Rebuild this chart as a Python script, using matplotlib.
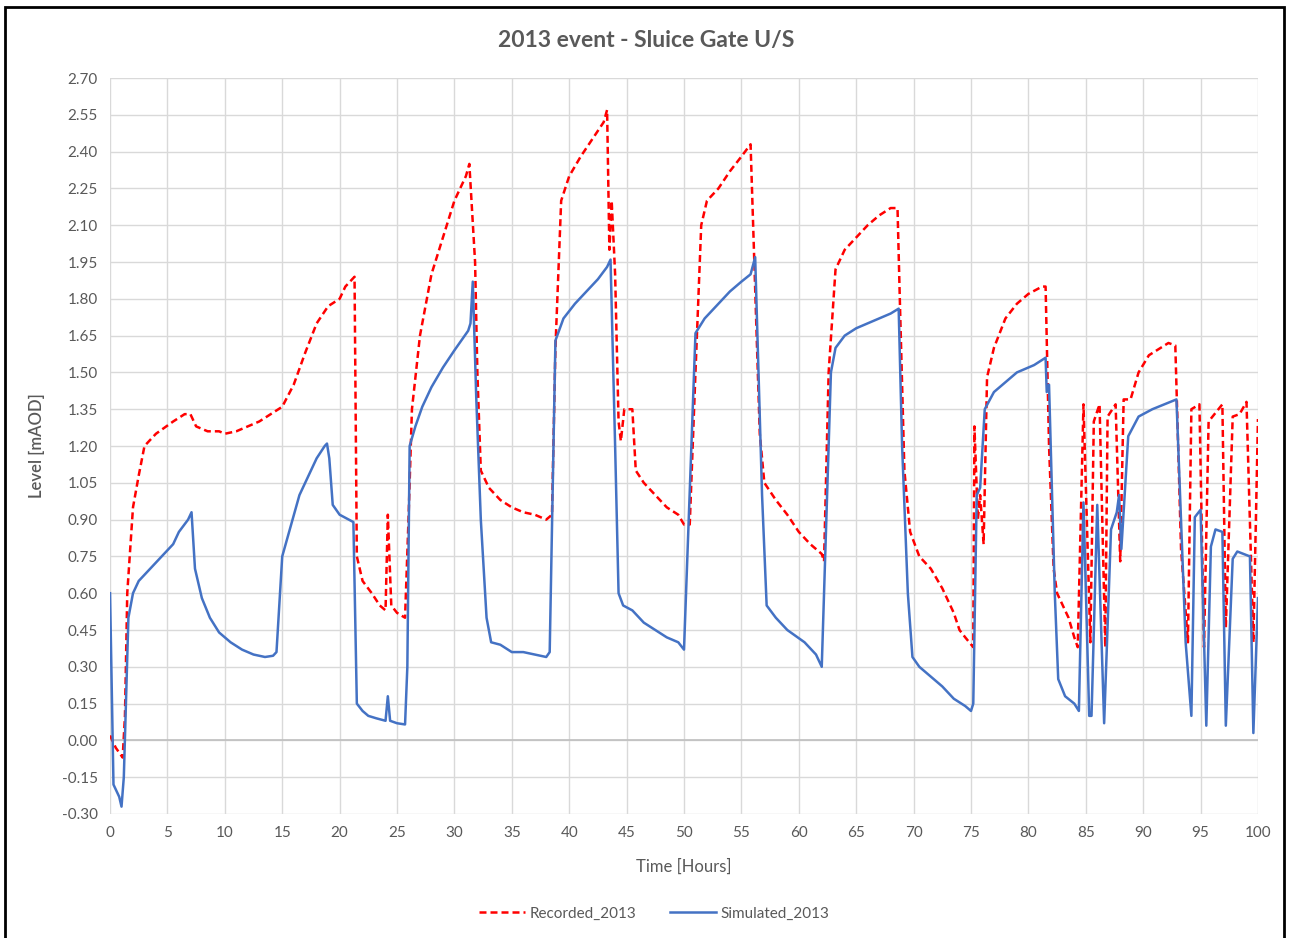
import numpy as np
import matplotlib.pyplot as plt
from matplotlib.patches import Rectangle

# Recorded_2013 (red dashed)
rec_t = [0.0, 0.5, 1.1, 1.3, 1.5, 2.0, 2.5, 3.0, 4.0, 5.5, 6.5, 7.0, 7.5, 8.5, 9.5, 10.0, 11.0,
         12.0, 13.0, 14.0, 15.0, 16.0, 17.0, 18.0, 19.0, 20.0, 20.5, 21.3, 21.5, 22.0, 22.8,
         23.5, 24.0, 24.2, 24.5, 25.0, 25.7, 26.0, 26.3, 27.0, 28.0, 29.0, 30.0, 31.0, 31.3,
         31.8, 32.0, 32.3, 33.0, 34.0, 35.0, 36.0, 37.0, 38.0, 38.5, 38.8, 39.3, 40.0, 41.0,
         42.0, 43.0, 43.3, 43.5, 43.7, 44.0, 44.3, 44.5, 44.8, 45.5, 45.8, 46.5, 47.5, 48.5,
         49.5, 50.0, 50.5, 51.0, 51.5, 52.0, 53.0, 54.0, 55.0, 55.8, 56.3, 56.6, 57.0, 58.0,
         59.0, 60.0, 61.0, 62.0, 62.2, 62.6, 63.2, 64.0, 65.0, 66.0, 67.0, 68.0, 68.6, 68.8,
         69.2, 69.7, 70.5, 71.5, 72.5, 73.5, 74.0, 74.5, 75.2, 75.3, 75.6, 75.8, 76.1, 76.4,
         77.0, 78.0, 79.0, 80.0, 81.2, 81.5, 81.8, 82.2, 82.5, 83.5, 84.0, 84.3, 84.8, 85.4,
         85.7, 86.2, 86.7, 86.9, 87.6, 88.0, 88.3, 88.9, 89.6, 90.5, 92.2, 92.8, 93.3, 93.9,
         94.2, 94.9, 95.3, 95.7, 96.9, 97.2, 97.8, 98.4, 99.0, 99.6, 100.0]
rec_v = [0.02, -0.03, -0.07, 0.10, 0.60, 0.95, 1.08, 1.20, 1.25, 1.30, 1.33, 1.33, 1.28, 1.26,
         1.26, 1.25, 1.26, 1.28, 1.30, 1.33, 1.36, 1.45, 1.58, 1.70, 1.77, 1.80, 1.85, 1.89,
         0.75, 0.65, 0.60, 0.55, 0.53, 0.92, 0.55, 0.52, 0.50, 0.90, 1.35, 1.65, 1.90, 2.05,
         2.20, 2.30, 2.35, 1.95, 1.50, 1.10, 1.03, 0.98, 0.95, 0.93, 0.92, 0.90, 0.92, 1.60,
         2.20, 2.30, 2.38, 2.45, 2.52, 2.57, 2.00, 2.20, 1.90, 1.30, 1.22, 1.35, 1.35, 1.10,
         1.05, 1.00, 0.95, 0.92, 0.88, 0.88, 1.50, 2.10, 2.20, 2.25, 2.32, 2.38, 2.43, 1.70,
         1.25, 1.05, 0.98, 0.92, 0.85, 0.80, 0.76, 0.73, 1.50, 1.92, 2.00, 2.05, 2.10, 2.14,
         2.17, 2.17, 1.80, 1.10, 0.85, 0.75, 0.70, 0.62, 0.52, 0.45, 0.42, 0.38, 1.28, 0.90,
         1.00, 0.80, 1.48, 1.60, 1.72, 1.78, 1.82, 1.85, 1.85, 1.20, 0.70, 0.60, 0.50, 0.42,
         0.38, 1.37, 0.40, 1.30, 1.37, 0.38, 1.32, 1.37, 0.73, 1.39, 1.39, 1.50, 1.57, 1.62,
         1.61, 0.78, 0.40, 1.35, 1.37, 0.38, 1.30, 1.37, 0.46, 1.32, 1.33, 1.38, 0.40, 1.31]

# Simulated_2013 (blue solid)
sim_t = [0.0, 0.3, 0.8, 1.0, 1.2, 1.6, 2.0, 2.5, 3.5, 4.5, 5.5, 6.0, 6.8, 7.1, 7.4, 8.0, 8.7,
         9.5, 10.5, 11.5, 12.5, 13.5, 14.2, 14.5, 15.0, 15.6, 16.5, 17.3, 18.0, 18.7, 18.9,
         19.1, 19.4, 20.0, 20.8, 21.2, 21.5, 22.0, 22.5, 23.2, 24.0, 24.2, 24.4, 25.0, 25.7,
         25.9, 26.1, 26.6, 27.2, 28.0, 29.0, 30.0, 31.2, 31.4, 31.6, 31.9, 32.3, 32.8, 33.2,
         34.0, 35.0, 36.0, 37.0, 38.0, 38.3, 38.8, 39.5, 40.5, 41.5, 42.5, 43.3, 43.6, 44.0,
         44.3, 44.7, 45.5, 46.5, 47.5, 48.5, 49.5, 50.0, 51.0, 51.8, 53.0, 54.0, 55.0, 55.8,
         56.2, 56.8, 57.2, 58.0, 59.0, 60.5, 61.5, 62.0, 62.8, 63.2, 64.0, 65.0, 66.5, 68.0,
         68.7, 69.0, 69.5, 69.9, 70.5, 71.5, 72.5, 73.5, 74.5, 75.0, 75.2, 75.5, 75.8, 76.2,
         77.0, 78.0, 79.0, 80.5, 81.5, 81.6, 81.8, 82.3, 82.6, 83.2, 84.0, 84.4, 84.8, 85.3,
         85.5, 86.0, 86.6, 87.2, 87.7, 87.9, 88.1, 88.7, 89.6, 90.8, 92.9, 93.7, 94.2, 94.5,
         95.0, 95.5, 95.9, 96.3, 96.9, 97.2, 97.8, 98.2, 99.3, 99.6, 100.0]
sim_v = [0.60, -0.18, -0.23, -0.27, -0.15, 0.50, 0.60, 0.65, 0.70, 0.75, 0.80, 0.85, 0.90, 0.93,
         0.70, 0.58, 0.50, 0.44, 0.40, 0.37, 0.35, 0.34, 0.345, 0.36, 0.75, 0.85, 1.00, 1.08,
         1.15, 1.20, 1.21, 1.15, 0.96, 0.92, 0.90, 0.89, 0.15, 0.12, 0.10, 0.09, 0.08, 0.18,
         0.08, 0.07, 0.065, 0.30, 1.20, 1.28, 1.36, 1.44, 1.52, 1.59, 1.67, 1.70, 1.87, 1.40,
         0.90, 0.50, 0.40, 0.39, 0.36, 0.36, 0.35, 0.34, 0.36, 1.63, 1.72, 1.78, 1.83, 1.88,
         1.93, 1.96, 1.20, 0.60, 0.55, 0.53, 0.48, 0.45, 0.42, 0.40, 0.37, 1.66, 1.72, 1.78,
         1.83, 1.87, 1.90, 1.97, 1.00, 0.55, 0.50, 0.45, 0.40, 0.35, 0.30, 1.50, 1.60, 1.65,
         1.68, 1.71, 1.74, 1.76, 1.20, 0.60, 0.34, 0.30, 0.26, 0.22, 0.17, 0.14, 0.12, 0.15,
         1.00, 1.03, 1.35, 1.42, 1.46, 1.50, 1.53, 1.56, 1.42, 1.45, 0.60, 0.25, 0.18, 0.15,
         0.12, 0.97, 0.10, 0.10, 0.96, 0.07, 0.86, 0.93, 1.00, 0.78, 1.24, 1.32, 1.35, 1.39,
         0.40, 0.10, 0.91, 0.94, 0.06, 0.79, 0.86, 0.85, 0.06, 0.74, 0.77, 0.75, 0.03, 0.58]

x_ticks = list(range(0, 101, 5))
y_ticks = [round(-0.30 + 0.15 * i, 2) for i in range(21)]

plt.rcParams['font.family'] = ['Lato', 'DejaVu Sans']
grey = '#595959'

fig = plt.figure(figsize=(12.93, 9.38), dpi=100)
ax = fig.add_axes([0.0851, 0.1322, 0.8878, 0.7846])

rec_line, = ax.plot(rec_t, rec_v, color='#FF0000', lw=1.8, dashes=(2.8, 1.6), label='Recorded_2013')
sim_line, = ax.plot(sim_t, sim_v, color='#4472C4', lw=1.8, label='Simulated_2013')

ax.set_xlim(0, 100)
ax.set_ylim(-0.30, 2.70)
ax.set_xticks(x_ticks)
ax.set_yticks(y_ticks)
ax.set_yticklabels([f"{v:.2f}" for v in y_ticks])
ax.grid(True, color='#d9d9d9', lw=1.0)
ax.set_axisbelow(True)
ax.axhline(0, color='#bfbfbf', lw=1.2, zorder=1)
for s in ax.spines.values():
    s.set_visible(False)
ax.tick_params(length=0, labelsize=11, colors=grey, pad=9)

ax.set_xlabel('Time [Hours]', fontsize=12, color=grey, labelpad=13)
ax.set_ylabel('Level [mAOD]', fontsize=12, color=grey, labelpad=12, fontweight='semibold')
fig.text(0.5, 1 - 40 / 938, '2013 event - Sluice Gate U/S', fontsize=16.5, color=grey,
         fontweight='bold', ha='center', va='center')

fig.legend(handles=[rec_line, sim_line], loc='center', bbox_to_anchor=(0.506, 0.026),
           ncol=2, frameon=False, fontsize=11, labelcolor=grey, handlelength=3.0,
           columnspacing=2.2, handletextpad=0.3)

fig.patches.append(Rectangle((0.004, -0.01), 0.989, 1.003, transform=fig.transFigure,
                             fill=False, edgecolor='black', lw=2))

fig.savefig('out.png', dpi=100)
